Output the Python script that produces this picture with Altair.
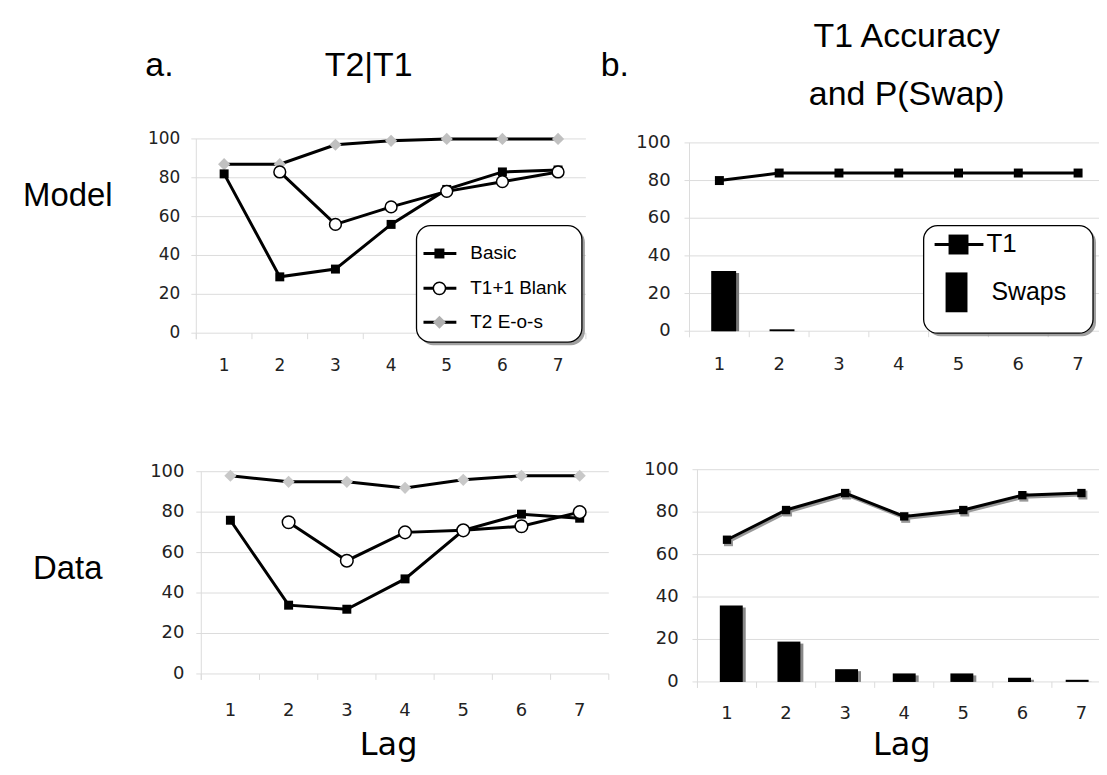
import altair as alt
import pandas as pd

# ---------------- data ----------------
lags = [1, 2, 3, 4, 5, 6, 7]
y_ticks = [0, 20, 40, 60, 80, 100]

model_basic = [82, 29, 33, 56, 74, 83, 84]
model_blank_lags = [2, 3, 4, 5, 6, 7]
model_blank = [83, 56, 65, 73, 78, 83]
model_eos = [87, 87, 97, 99, 100, 100, 100]
model_t1 = [80, 84, 84, 84, 84, 84, 84]
model_swaps = [32, 1, 0, 0, 0, 0, 0]

data_basic = [76, 34, 32, 47, 71, 79, 77]
data_blank_lags = [2, 3, 4, 5, 6, 7]
data_blank = [75, 56, 70, 71, 73, 80]
data_eos = [98, 95, 95, 92, 96, 98, 98]
data_t1 = [67, 81, 89, 78, 81, 88, 89]
data_swaps = [36, 19, 6, 4, 4, 2, 1]

legend_a = ["Basic", "T1+1 Blank", "T2 E-o-s"]
legend_b = ["T1", "Swaps"]

# ---------------- layout (canvas pixels) ----------------
P = {
    "TL": dict(xr=[189, 580], yr=[325, 130], ylx=173, xly=358),
    "TR": dict(xr=[684, 1104], yr=[323, 134], ylx=665, xly=357),
    "BL": dict(xr=[194, 603], yr=[667, 464], ylx=177, xly=704),
    "BR": dict(xr=[692, 1107], yr=[675, 462], ylx=673, xly=707),
}
GRID = "#dcdcdc"
TICKFONT = "DejaVu Sans"
TITLEFONT = "Liberation Sans"
one = pd.DataFrame({"k": [0]})


def X(field, p):
    return alt.X(field, type="quantitative",
                 scale=alt.Scale(domain=[0.5, 7.5], range=p["xr"], nice=False, zero=False),
                 axis=None)


def Y(field, p):
    return alt.Y(field, type="quantitative",
                 scale=alt.Scale(domain=[0, 100], range=p["yr"], nice=False, zero=False),
                 axis=None)


def frame(p, fs=17):
    out = []
    gdf = pd.DataFrame({"v": y_ticks})
    out.append(alt.Chart(gdf).mark_rule(color=GRID, strokeWidth=1).encode(
        y=Y("v", p), x=alt.value(p["xr"][0] - 5), x2=alt.value(p["xr"][1])))
    bdf = pd.DataFrame({"b": [l - 0.5 for l in lags] + [lags[-1] + 0.5]})
    out.append(alt.Chart(bdf).mark_rule(color=GRID, strokeWidth=1).encode(
        x=X("b", p), y=alt.value(p["yr"][0]), y2=alt.value(p["yr"][0] + 6)))
    out.append(alt.Chart(one).mark_rule(color=GRID, strokeWidth=1).encode(
        x=alt.value(p["xr"][0]), y=alt.value(p["yr"][1]), y2=alt.value(p["yr"][0] + 6)))
    out.append(alt.Chart(gdf).mark_text(align="right", baseline="middle", font=TICKFONT,
                                        fontSize=fs, color="#222").encode(
        y=Y("v", p), x=alt.value(p["ylx"]), text=alt.Text("v:Q", format="d")))
    ldf = pd.DataFrame({"lag": lags})
    out.append(alt.Chart(ldf).mark_text(align="center", baseline="middle", font=TICKFONT,
                                        fontSize=fs, color="#222").encode(
        x=X("lag", p), y=alt.value(p["xly"]), text=alt.Text("lag:Q", format="d")))
    return out


def series(xs, ys):
    return pd.DataFrame({"lag": xs, "val": ys})


def line(df, p, color="black", width=3, dx=0, dy=0):
    return alt.Chart(df).mark_line(color=color, strokeWidth=width, xOffset=dx, yOffset=dy).encode(
        x=X("lag", p), y=Y("val", p))


def pts(df, p, shape, size, fill, stroke=None, sw=0, dx=0, dy=0):
    kw = dict(shape=shape, size=size, filled=True, fill=fill, opacity=1, xOffset=dx, yOffset=dy)
    if stroke:
        kw.update(stroke=stroke, strokeWidth=sw)
    else:
        kw.update(strokeWidth=0)
    return alt.Chart(df).mark_point(**kw).encode(x=X("lag", p), y=Y("val", p))


def bars(df, p, size, color, dx=0, dy=0):
    return alt.Chart(df).mark_bar(size=size, color=color, xOffset=dx, yOffset=dy).encode(
        x=X("lag", p), y=Y("val", p), y2=alt.datum(0))


def txt(s, x, y, size, font=TITLEFONT, align="center", color="black"):
    return alt.Chart(one).mark_text(font=font, fontSize=size, align=align, baseline="middle",
                                    color=color).encode(
        x=alt.value(x), y=alt.value(y), text=alt.value(s))


def box(x0, x1, y0, y1):
    sh = alt.Chart(one).mark_rect(cornerRadius=14, fill="#888888", opacity=0.8).encode(
        x=alt.value(x0 + 3), x2=alt.value(x1 + 3), y=alt.value(y0 + 3), y2=alt.value(y1 + 3))
    bx = alt.Chart(one).mark_rect(cornerRadius=14, fill="white", stroke="black", strokeWidth=1.3).encode(
        x=alt.value(x0), x2=alt.value(x1), y=alt.value(y0), y2=alt.value(y1))
    return [sh, bx]


layers = []

# ---- Top-left: Model T2|T1 ----
p = P["TL"]
layers += frame(p)
d_eos = series(lags, model_eos)
d_basic = series(lags, model_basic)
d_blank = series(model_blank_lags, model_blank)
layers += [line(d_eos, p), pts(d_eos, p, "diamond", 150, "#c0c0c0")]
layers += [line(d_basic, p), pts(d_basic, p, "square", 81, "black")]
layers += [line(d_blank, p), pts(d_blank, p, "circle", 140, "white", "black", 1.5)]
# legend a
layers += box(410, 576, 217, 334)
for yy in [245, 280, 314]:
    layers.append(alt.Chart(one).mark_rule(color="black", strokeWidth=3).encode(
        x=alt.value(417), x2=alt.value(450), y=alt.value(yy)))
layers.append(alt.Chart(one).mark_point(shape="square", size=100, filled=True, fill="black",
                                        opacity=1, strokeWidth=0).encode(x=alt.value(433), y=alt.value(245)))
layers.append(alt.Chart(one).mark_point(shape="circle", size=150, filled=True, fill="white",
                                        stroke="black", strokeWidth=1.5, opacity=1).encode(
    x=alt.value(433), y=alt.value(280)))
layers.append(alt.Chart(one).mark_point(shape="diamond", size=170, filled=True, fill="#b0b0b0",
                                        opacity=1, strokeWidth=0).encode(x=alt.value(433), y=alt.value(314)))
for s, yy in zip(legend_a, [245, 280, 314]):
    layers.append(txt(s, 464, yy, 19, align="left"))

# ---- Top-right: Model T1 & swaps ----
p = P["TR"]
layers += frame(p, 18)
d_sw = series(lags, model_swaps)
d_sw_nz = d_sw[d_sw["val"] > 0]
d_t1 = series(lags, model_t1)
layers += [bars(d_sw_nz, p, 25, "#777777", 3, 2), bars(d_sw_nz, p, 25, "black")]
layers += [line(d_t1, p), pts(d_t1, p, "square", 81, "black")]
layers += box(919, 1089, 217, 325)
layers.append(alt.Chart(one).mark_rule(color="black", strokeWidth=3).encode(
    x=alt.value(930), x2=alt.value(979), y=alt.value(236)))
layers.append(alt.Chart(one).mark_point(shape="square", size=400, filled=True, fill="black",
                                        opacity=1, strokeWidth=0).encode(x=alt.value(954), y=alt.value(236)))
layers.append(alt.Chart(one).mark_rect(color="black").encode(
    x=alt.value(941), x2=alt.value(963), y=alt.value(264), y2=alt.value(304)))
layers.append(txt(legend_b[0], 982, 236, 26, align="left"))
layers.append(txt(legend_b[1], 987, 284, 25, align="left"))

# ---- Bottom-left: Data T2|T1 ----
p = P["BL"]
layers += frame(p, 18)
d_eos = series(lags, data_eos)
d_basic = series(lags, data_basic)
d_blank = series(data_blank_lags, data_blank)
layers += [line(d_eos, p), pts(d_eos, p, "diamond", 150, "#c8c8c8")]
layers += [line(d_basic, p), pts(d_basic, p, "square", 81, "black")]
layers += [line(d_blank, p), pts(d_blank, p, "circle", 160, "white", "black", 1.5)]

# ---- Bottom-right: Data T1 & swaps ----
p = P["BR"]
layers += frame(p, 18)
d_sw = series(lags, data_swaps)
d_t1 = series(lags, data_t1)
layers += [bars(d_sw, p, 23, "#888888", 3, 2), bars(d_sw, p, 23, "black")]
layers += [line(d_t1, p, color="#999999", dx=1.5, dy=2), pts(d_t1, p, "square", 81, "#999999", dx=1.5, dy=2)]
layers += [line(d_t1, p), pts(d_t1, p, "square", 70, "black")]

# ---- titles & labels ----
layers += [
    txt("a.", 152, 57, 34),
    txt("T2|T1", 362, 57, 34),
    txt("b.", 609, 57, 34),
    txt("T1 Accuracy", 902, 28, 34),
    txt("and P(Swap)", 902, 86, 34),
    txt("Model", 60, 187, 33),
    txt("Data", 60, 562, 33),
    txt("Lag", 382, 738, 32, font=TICKFONT),
    txt("Lag", 897, 738, 32, font=TICKFONT),
]

chart = alt.layer(*layers).resolve_scale(x="independent", y="independent").properties(
    width=1095, height=758, padding=0, autosize=alt.AutoSizeParams(type="none"),
    background="white"
).configure_view(stroke=None)

chart.save("out.html", embed_options={"renderer": "svg", "actions": False})
